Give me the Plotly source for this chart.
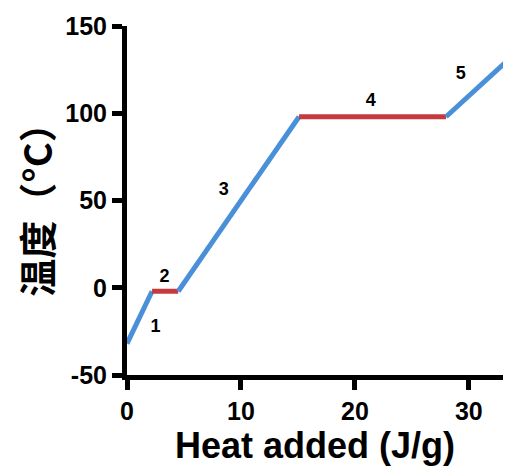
import plotly.graph_objects as go

# segment data
seg_x = [[0, 2.2], [2.2, 4.5], [4.5, 15.1], [15.1, 28.0], [28.0, 33.2]]
seg_y = [[-32, -2], [-2, -2], [-2, 98], [98, 98], [98, 129]]
seg_color = ["#4A90D9", "#C43A3E", "#4A90D9", "#C43A3E", "#4A90D9"]

label_text = ["1", "2", "3", "4", "5"]
label_x = [2.5, 3.3, 8.5, 21.4, 29.3]
label_y = [-23, 6, 56, 107, 122]

x_ticks = [0, 10, 20, 30]
x_ticktext = ["0", "10", "20", "30"]
y_ticks = [-50, 0, 50, 100, 150]
y_ticktext = ["-50", "0", "50", "100", "150"]

fig = go.Figure()
for xs, ys, c in zip(seg_x, seg_y, seg_color):
    fig.add_trace(go.Scatter(x=xs, y=ys, mode="lines",
                             line=dict(color=c, width=5), showlegend=False,
                             hoverinfo="skip"))
fig.add_trace(go.Scatter(x=label_x, y=label_y, mode="text", text=label_text,
                         textfont=dict(family="Liberation Sans", size=18, color="black",
                                       weight="bold"),
                         showlegend=False, cliponaxis=False))

axis_common = dict(showgrid=False, zeroline=False, showline=True, linecolor="black",
                   linewidth=5, ticks="outside", ticklen=10, tickwidth=5,
                   tickcolor="black", automargin=False,
                   tickfont=dict(family="Liberation Sans", size=25, color="black",
                                 weight="bold"))

fig.update_layout(
    width=512, height=474,
    margin=dict(l=119, r=17, t=18, b=107),
    paper_bgcolor="white", plot_bgcolor="white",
    font=dict(family="Liberation Sans", color="black"),
    xaxis=dict(range=[0, 33], tickvals=x_ticks, ticktext=x_ticktext,
               title=dict(text="Heat added (J/g)",
                          font=dict(family="Liberation Sans", size=36, weight="bold"),
                          standoff=3),
               **axis_common),
    yaxis=dict(range=[-50, 150], tickvals=y_ticks, ticktext=y_ticktext,
               title=dict(text="温度（°C）",
                          font=dict(family="Noto Sans CJK SC", size=38, weight="bold"),
                          standoff=17),
               **axis_common),
)
fig.write_html("out.html")
